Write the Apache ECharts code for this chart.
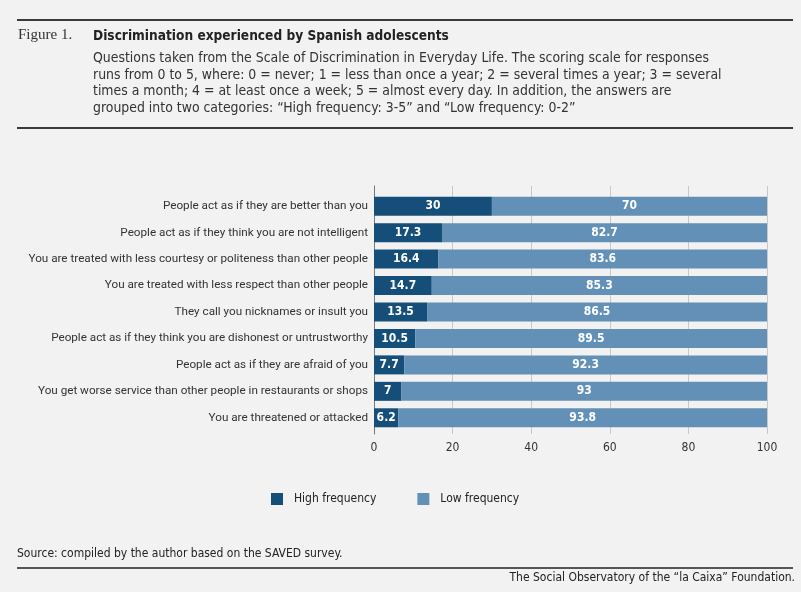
<!DOCTYPE html>
<html>
<head>
<meta charset="utf-8">
<title>Discrimination experienced by Spanish adolescents</title>
<script src="https://cdn.jsdelivr.net/npm/echarts@6/dist/echarts.min.js"></script>
<style>
  html, body { margin: 0; padding: 0; background: #f2f2f2; }
  #chart { width: 801px; height: 592px; }
</style>
</head>
<body>
<div id="chart"></div>
<script>
const categories = [
    'People act as if they are better than you',
    'People act as if they think you are not intelligent',
    'You are treated with less courtesy or politeness than other people',
    'You are treated with less respect than other people',
    'They call you nicknames or insult you',
    'People act as if they think you are dishonest or untrustworthy',
    'People act as if they are afraid of you',
    'You get worse service than other people in restaurants or shops',
    'You are threatened or attacked'
];
const highFrequency = [30, 17.3, 16.4, 14.7, 13.5, 10.5, 7.7, 7, 6.2];
const lowFrequency = [70, 82.7, 83.6, 85.3, 86.5, 89.5, 92.3, 93, 93.8];
const seriesNames = ['High frequency', 'Low frequency'];

const narrow = '"DejaVu Sans Condensed", "Liberation Sans Narrow", sans-serif';
const dark = '#154e78';
const light = '#6290b7';

const chart = echarts.init(document.getElementById('chart'));

const subtitle = [
    'Questions taken from the Scale of Discrimination in Everyday Life. The scoring scale for responses',
    'runs from 0 to 5, where: 0 = never; 1 = less than once a year; 2 = several times a year; 3 = several',
    'times a month; 4 = at least once a week; 5 = almost every day. In addition, the answers are',
    'grouped into two categories: \u201cHigh frequency: 3-5\u201d and \u201cLow frequency: 0-2\u201d'
];

const options = {
    backgroundColor: '#f2f2f2',
    animation: false,
    graphic: [
        // header and footer rules
        { type: 'rect', shape: { x: 17, y: 19, width: 776, height: 2 }, style: { fill: '#3a3a3a' } },
        { type: 'rect', shape: { x: 17, y: 127, width: 776, height: 2 }, style: { fill: '#3a3a3a' } },
        { type: 'rect', shape: { x: 17, y: 567, width: 776, height: 2 }, style: { fill: '#555' } },
        {
            type: 'text', left: 18, top: 28,
            style: { text: 'Figure 1.', font: '15px "Liberation Serif", "DejaVu Serif", serif', fill: '#333' }
        },
        {
            type: 'text', left: 93, top: 29,
            style: { text: 'Discrimination experienced by Spanish adolescents', font: 'bold 13.6px ' + narrow, fill: '#222' }
        },
        {
            type: 'text', left: 93, top: 50,
            style: { text: subtitle.join('\n'), font: '13.9px ' + narrow, lineHeight: 16.7, fill: '#333' }
        },
        {
            type: 'text', left: 17, top: 548,
            style: { text: 'Source: compiled by the author based on the SAVED survey.', font: '12px ' + narrow, fill: '#222' }
        },
        {
            type: 'text', right: 6, top: 572,
            style: { text: 'The Social Observatory of the \u201cla Caixa\u201d Foundation.', font: '12px ' + narrow, fill: '#222' }
        }
    ],
    legend: {
        data: seriesNames,
        left: 271,
        top: 493,
        padding: 0,
        itemWidth: 12,
        itemHeight: 12,
        itemGap: 41,
        icon: 'rect',
        textStyle: { fontFamily: narrow, fontSize: 12, color: '#222', padding: [0, 0, 0, 6] }
    },
    grid: [
        { left: 374, right: 34, top: 193, bottom: 161 },
        { left: 374, right: 34, top: 186, bottom: 158 }
    ],
    xAxis: [{
        gridIndex: 0,
        type: 'value',
        min: 0,
        max: 100,
        interval: 20,
        axisLine: { show: false },
        axisTick: { show: false },
        splitLine: { show: false },
        axisLabel: { margin: 11, fontFamily: narrow, fontSize: 12, color: '#333' }
    }, {
        gridIndex: 1,
        type: 'value',
        min: 0,
        max: 100,
        interval: 20,
        axisLine: { show: false },
        axisTick: { show: false },
        axisLabel: { show: false },
        splitLine: { show: true, lineStyle: { color: '#c8c8c8', width: 1 } }
    }],
    yAxis: [{
        gridIndex: 0,
        type: 'category',
        data: categories,
        inverse: true,
        axisLine: { show: false },
        axisTick: { show: false },
        axisLabel: { margin: 6, fontFamily: 'Roboto, sans-serif', fontSize: 11.7, color: '#333' }
    }, {
        gridIndex: 1,
        type: 'value',
        axisLine: { show: true, lineStyle: { color: '#777', width: 1 } },
        axisTick: { show: false },
        axisLabel: { show: false },
        splitLine: { show: false }
    }],
    series: [{
        name: seriesNames[0],
        type: 'bar',
        stack: 'total',
        barWidth: 19,
        itemStyle: { color: dark },
        label: {
            show: true, position: 'inside', color: '#fff',
            fontFamily: narrow, fontSize: 12, fontWeight: 'bold'
        },
        data: highFrequency
    }, {
        name: seriesNames[1],
        type: 'bar',
        stack: 'total',
        barWidth: 19,
        itemStyle: { color: light },
        label: {
            show: true, position: 'inside', color: '#fff',
            fontFamily: narrow, fontSize: 12, fontWeight: 'bold'
        },
        data: lowFrequency
    }]
};

chart.setOption(options);
</script>
</body>
</html>
